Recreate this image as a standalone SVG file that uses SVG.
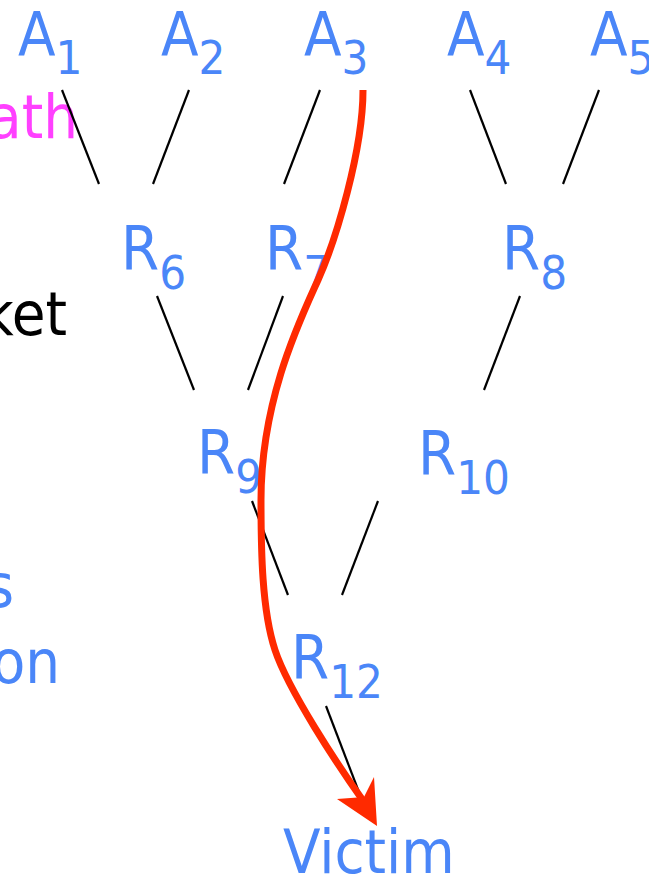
<svg xmlns="http://www.w3.org/2000/svg" width="649" height="877" viewBox="0 0 649 877">
<style>
text{font-family:"DejaVu Sans Condensed","DejaVu Sans",sans-serif;font-size:61px}
.n{fill:#4A86F8}
.sub{font-size:47px}
.edge{stroke:#000;stroke-width:2.2;fill:none}
.path{stroke:#FF2A00;stroke-width:7;fill:none;stroke-linecap:butt}
</style>
<rect width="649" height="877" fill="#fff"/>
<text x="78" y="138" text-anchor="end" fill="#FF40FF">ath</text>
<text x="67" y="335" text-anchor="end" fill="#000">ket</text>
<text x="14" y="607" text-anchor="end" class="n">s</text>
<text x="60" y="683" text-anchor="end" class="n">on</text>
<g id="A1"><text x="18" y="55" class="n">A<tspan class="sub" dy="19">1</tspan></text></g>
<g id="A2"><text x="161" y="55" class="n">A<tspan class="sub" dy="19">2</tspan></text></g>
<g id="A3"><text x="304" y="55" class="n">A<tspan class="sub" dy="19">3</tspan></text></g>
<g id="A4"><text x="447" y="55" class="n">A<tspan class="sub" dy="19">4</tspan></text></g>
<g id="A5"><text x="590" y="55" class="n">A<tspan class="sub" dy="19">5</tspan></text></g>
<g id="R6"><text x="121" y="270" class="n">R<tspan class="sub" dy="19">6</tspan></text></g>
<g id="R7"><text x="265" y="270" class="n">R<tspan class="sub" dy="19">7</tspan></text></g>
<g id="R8"><text x="502" y="270" class="n">R<tspan class="sub" dy="19">8</tspan></text></g>
<g id="R9"><text x="197" y="474" class="n">R<tspan class="sub" dy="19">9</tspan></text></g>
<g id="R10"><text x="418" y="475" class="n">R<tspan class="sub" dy="19">10</tspan></text></g>
<g id="R12"><text x="291" y="679" class="n">R<tspan class="sub" dy="19">12</tspan></text></g>
<g id="Victim"><text x="283" y="873" class="n">Victim</text></g>
<g id="connectors">
<line class="edge" x1="62" y1="90" x2="99" y2="184"/>
<line class="edge" x1="189" y1="90" x2="153" y2="184"/>
<line class="edge" x1="320" y1="90" x2="284" y2="184"/>
<line class="edge" x1="470" y1="90" x2="506" y2="184"/>
<line class="edge" x1="599" y1="90" x2="563" y2="184"/>
<line class="edge" x1="157" y1="296" x2="194" y2="390"/>
<line class="edge" x1="283" y1="296" x2="248" y2="390"/>
<line class="edge" x1="520" y1="296" x2="484" y2="390"/>
<line class="edge" x1="252" y1="501" x2="288" y2="595"/>
<line class="edge" x1="378" y1="501" x2="342" y2="595"/>
<line class="edge" x1="326" y1="706" x2="362" y2="800"/>
<path class="path" d="M363,90 C363,150 336,240 318,280 C300,320 261,400 261,500 C261,550 261.8,610 275,650 C288.2,690 338,765.5 364,802"/>
<polygon fill="#FF2A00" points="374,777 377,826 337,799 364,797"/>
</g>
</svg>
